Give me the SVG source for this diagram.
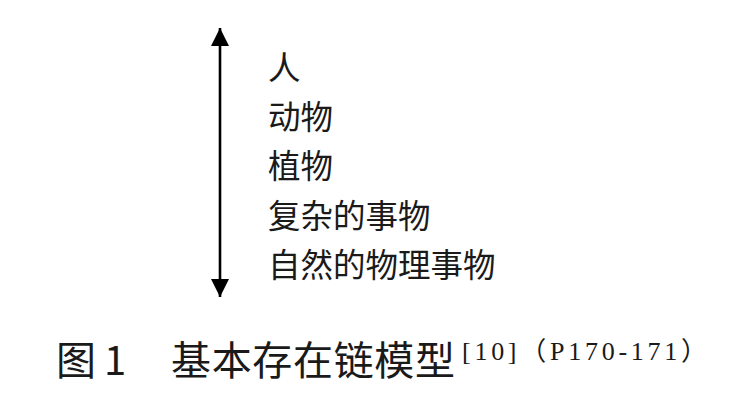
<svg xmlns="http://www.w3.org/2000/svg" width="732" height="413" viewBox="0 0 732 413">
<style>
.lbl{font-family:"Noto Sans CJK SC","Noto Sans",sans-serif;font-size:32.5px;fill:#1a1a1a}
.cap{font-family:"Noto Sans CJK SC","Noto Sans",sans-serif;font-size:40px;fill:#1a1a1a}
.sup{font-family:"Liberation Serif","Noto Sans CJK SC",serif;font-size:26px;fill:#1a1a1a}
</style>
<defs>
<marker id="ah" viewBox="0 0 10 10" refX="10" refY="5" markerWidth="7" markerHeight="7" markerUnits="strokeWidth" orient="auto-start-reverse">
<path d="M0,0 L10,5 L0,10 Z" fill="#000"/>
</marker>
</defs>
<rect width="732" height="413" fill="#fff"/>
<g id="connectors">
<line x1="220" y1="28" x2="220" y2="297" stroke="#000" stroke-width="2.6" marker-start="url(#ah)" marker-end="url(#ah)"/>
</g>
<g id="n1"><text class="lbl" x="268" y="80">人</text></g>
<g id="n2"><text class="lbl" x="268" y="129">动物</text></g>
<g id="n3"><text class="lbl" x="268" y="178">植物</text></g>
<g id="n4"><text class="lbl" x="268" y="228">复杂的事物</text></g>
<g id="n5"><text class="lbl" x="268" y="277">自然的物理事物</text></g>
<g id="caption">
<text class="cap" x="56" y="375">图</text>
<text class="cap" x="104" y="375" font-family="Liberation Serif, serif">1</text>
<text class="cap" x="171" y="375" textLength="284" lengthAdjust="spacing">基本存在链模型</text>
<text class="sup" x="462" y="360" textLength="245" lengthAdjust="spacing">[10]（P170-171）</text>
</g>
</svg>
